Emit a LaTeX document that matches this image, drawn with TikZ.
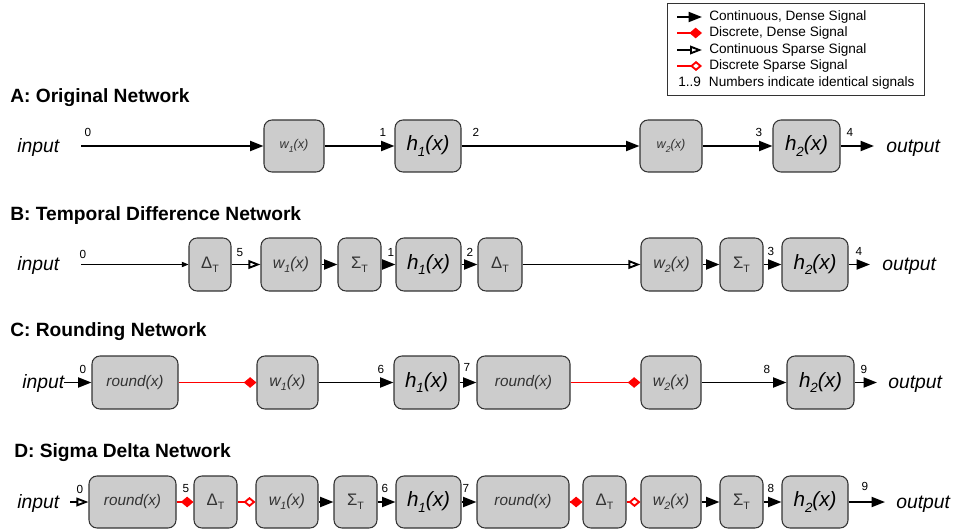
\documentclass[tikz,border=0pt]{standalone}
\usepackage{fontspec}
\setmainfont{Liberation Sans}
\usetikzlibrary{arrows.meta}
\def\px{0.75pt}
\definecolor{boxfill}{HTML}{CCCCCC}
\definecolor{boxline}{HTML}{333333}
\definecolor{txtgrey}{HTML}{333333}
\tikzset{
  blk/.style={draw=boxline, fill=boxfill, rounded corners=6pt, line width=0.8pt, inner sep=0pt, text=txtgrey},
  sig/.style={line width=1.4pt, -{Triangle[length=10pt,width=7.5pt]}},
  sparse/.style={line width=1.4pt, -{Triangle[open,length=9pt,width=6.5pt,fill=white]}},
  thinsig/.style={line width=0.6pt, -{Triangle[length=5pt,width=4pt]}},
  dsig/.style={draw=red, line width=1.4pt, -{Diamond[length=9.5pt,width=8pt,red]}},
  dsparse/.style={draw=red, line width=1.4pt, -{Diamond[open,length=9pt,width=7.5pt,red,fill=white]}},
  num/.style={anchor=base, inner sep=0pt, font=\fontsize{8.8}{10}\selectfont},
  io/.style={inner sep=0pt, font=\fontsize{14.5}{16}\selectfont\itshape},
  ttl/.style={anchor=base west, inner sep=0pt, font=\fontsize{14.4}{16}\selectfont\bfseries},
  legt/.style={anchor=west, inner sep=0pt, font=\fontsize{10.2}{12}\selectfont},
}
\newcommand\bx[6]{\node[blk,minimum width={(#3-#2)*\px},minimum height={(#5-#4)*\px}] (#1) at ({(#2+#3)/2},{(#4+#5)/2}) {#6};}
\newcommand\sbs[2]{\raisebox{-0.5ex}{\fontsize{#1}{#1}\selectfont #2}}
\newcommand\wsm[1]{\fontsize{9.5}{11}\selectfont\itshape w\sbs{6.5}{#1}(x)}
\newcommand\wfun[1]{\fontsize{12}{14}\selectfont\itshape w\sbs{8}{#1}(x)}
\newcommand\hfun[1]{\color{black}\fontsize{15.5}{18}\selectfont\itshape h\sbs{10}{#1}(x)}
\newcommand\rfun{\fontsize{11.5}{14}\selectfont\itshape round(x)}
\newcommand\dfun{\fontsize{12.5}{14}\selectfont Δ\sbs{8}{T}}
\newcommand\sfun{\fontsize{12.5}{14}\selectfont Σ\sbs{8}{T}}
\begin{document}
\begin{tikzpicture}[x=0.75pt,y=-0.75pt]
\useasboundingbox (0,0) rectangle (953,531);

% ---------------- Legend
\node[draw=boxline, line width=0.75pt, minimum width={257*\px}, minimum height={92*\px}, inner sep=0pt] (leg) at (795.5,50) {};
\coordinate (l1a) at (677,17); \coordinate (l1b) at (702,17);
\coordinate (l2a) at (677,33); \coordinate (l2b) at (702,33);
\coordinate (l3a) at (677,50); \coordinate (l3b) at (702,50);
\coordinate (l4a) at (677,66); \coordinate (l4b) at (702,66);
\draw[sig] (l1a) -- (l1b);
\draw[dsig] (l2a) -- (l2b);
\draw[sparse] (l3a) -- (l3b);
\draw[dsparse] (l4a) -- (l4b);
\node[legt] (lt1) at (709,17) {Continuous, Dense Signal};
\node[legt] (lt2) at (709,33) {Discrete, Dense Signal};
\node[legt] (lt3) at (709,50) {Continuous Sparse Signal};
\node[legt] (lt4) at (709,66) {Discrete Sparse Signal};
\node[legt] (lt5) at (678,83) {1..9\hspace{6pt}Numbers indicate identical signals};

% ---------------- A
\node[ttl] (tA) at (10,103) {A: Original Network};
\node[io, anchor=mid west] (inA) at (17,149) {input};
\coordinate (a0) at (81,146);
\bx{wA1}{264}{324}{120}{172}{\wsm{1}}
\bx{hA1}{395}{461}{120}{172}{\hfun{1}}
\bx{wA2}{640}{702}{120}{172}{\wsm{2}}
\bx{hA2}{773}{840}{120}{172}{\hfun{2}}
\coordinate (aout) at (874,146);
\node[io, anchor=mid west] (outA) at (886,149) {output};
\draw[sig] (a0) -- (wA1);
\draw[sig] (wA1) -- (hA1);
\draw[sig] (hA1) -- (wA2);
\draw[sig] (wA2) -- (hA2);
\draw[sig] (hA2) -- (aout);
\node[num] (nA0) at (88,137) {0};
\node[num] (nA1) at (383,137) {1};
\node[num] (nA2) at (476,137) {2};
\node[num] (nA3) at (759,137) {3};
\node[num] (nA4) at (850,137) {4};

% ---------------- B
\node[ttl] (tB) at (10,220) {B: Temporal Difference Network};
\node[io, anchor=mid west] (inB) at (17,267) {input};
\coordinate (b0) at (81,264.5);
\bx{dB1}{189}{231}{238}{291}{\dfun}
\bx{wB1}{261}{321}{238}{291}{\wfun{1}}
\bx{sB1}{338}{381}{238}{291}{\sfun}
\bx{hB1}{396}{461}{238}{291}{\hfun{1}}
\bx{dB2}{478}{522}{238}{291}{\dfun}
\bx{wB2}{641}{702}{238}{291}{\wfun{2}}
\bx{sB2}{720}{763}{238}{291}{\sfun}
\bx{hB2}{782}{848}{238}{291}{\hfun{2}}
\coordinate (bout) at (870,264.5);
\node[io, anchor=mid west] (outB) at (882,267) {output};
\draw[thinsig] (b0) -- (dB1);
\draw[sparse] (dB1) -- (wB1);
\draw[sig] (wB1) -- (sB1);
\draw[sig] (sB1) -- (hB1);
\draw[sig] (hB1) -- (dB2);
\draw[sparse] (dB2) -- (wB2);
\draw[sig] (wB2) -- (sB2);
\draw[sig] (sB2) -- (hB2);
\draw[sig] (hB2) -- (bout);
\node[num] (nB0) at (83,258) {0};
\node[num] (nB5) at (240,256) {5};
\node[num] (nB1) at (391,256) {1};
\node[num] (nB2) at (470,256) {2};
\node[num] (nB3) at (771,255) {3};
\node[num] (nB4) at (859,255) {4};

% ---------------- C
\node[ttl] (tC) at (10,336) {C: Rounding Network};
\node[io, anchor=mid west] (inC) at (22,385) {input};
\bx{rC1}{92}{178}{356}{409}{\rfun}
\bx{wC1}{257}{318}{356}{409}{\wfun{1}}
\bx{hC1}{394}{459}{356}{409}{\hfun{1}}
\bx{rC2}{477}{570}{356}{409}{\rfun}
\bx{wC2}{641}{701}{356}{409}{\wfun{2}}
\bx{hC2}{787}{854}{356}{409}{\hfun{2}}
\coordinate (cout) at (877,382.5);
\node[io, anchor=mid west] (outC) at (888,385) {output};
\draw[sig] (inC.east |- rC1) -- (rC1);
\draw[dsig] (rC1) -- (wC1);
\draw[sig] (wC1) -- (hC1);
\draw[sig] (hC1) -- (rC2);
\draw[dsig] (rC2) -- (wC2);
\draw[sig] (wC2) -- (hC2);
\draw[sig] (hC2) -- (cout);
\node[num] (nC0) at (83,373) {0};
\node[num] (nC6) at (381,373) {6};
\node[num] (nC7) at (467,371) {7};
\node[num] (nC8) at (767,373) {8};
\node[num] (nC9) at (864,373) {9};

% ---------------- D
\node[ttl] (tD) at (14,457) {D: Sigma Delta Network};
\node[io, anchor=mid west] (inD) at (17,505) {input};
\coordinate (d0) at (70,502);
\bx{rD1}{89}{176}{476}{528}{\rfun}
\bx{dD1}{194}{237}{476}{528}{\dfun}
\bx{wD1}{256}{318}{476}{528}{\wfun{1}}
\bx{sD1}{334}{377}{476}{528}{\sfun}
\bx{hD1}{396}{461}{476}{528}{\hfun{1}}
\bx{rD2}{477}{569}{476}{528}{\rfun}
\bx{dD2}{583}{626}{476}{528}{\dfun}
\bx{wD2}{641}{701}{476}{528}{\wfun{2}}
\bx{sD2}{720}{763}{476}{528}{\sfun}
\bx{hD2}{782}{848}{476}{528}{\hfun{2}}
\coordinate (dout) at (885,502);
\node[io, anchor=mid west] (outD) at (896,505) {output};
\draw[sparse] (d0) -- (rD1);
\draw[dsig] (rD1) -- (dD1);
\draw[dsparse] (dD1) -- (wD1);
\draw[sig] (wD1) -- (sD1);
\draw[sig] (sD1) -- (hD1);
\draw[sig] (hD1) -- (rD2);
\draw[dsig] (rD2) -- (dD2);
\draw[dsparse] (dD2) -- (wD2);
\draw[sig] (wD2) -- (sD2);
\draw[sig] (sD2) -- (hD2);
\draw[sig] (hD2) -- (dout);
\node[num] (nD0) at (80,493) {0};
\node[num] (nD5) at (186,492) {5};
\node[num] (nD6) at (385,492) {6};
\node[num] (nD7) at (466,492) {7};
\node[num] (nD8) at (771,492) {8};
\node[num] (nD9) at (865,490) {9};
\end{tikzpicture}
\end{document}
